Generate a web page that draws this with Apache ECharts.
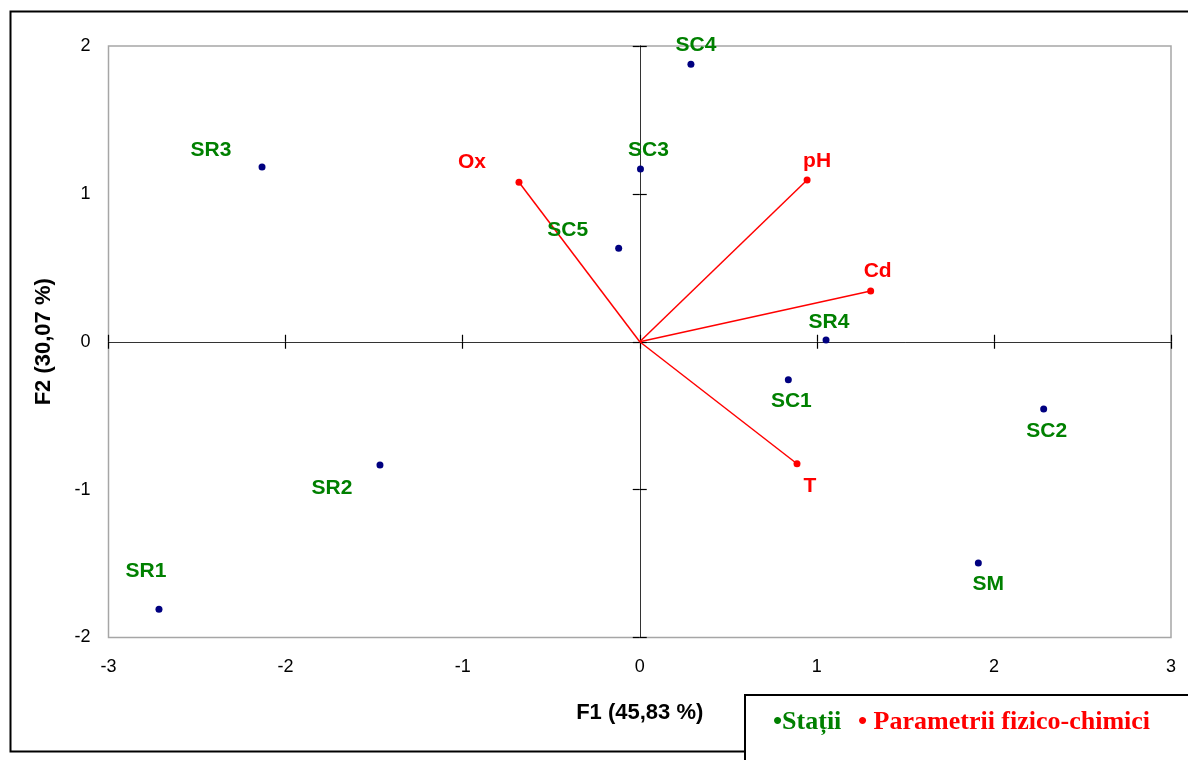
<!DOCTYPE html>
<html>
<head>
<meta charset="utf-8">
<script src="https://cdn.jsdelivr.net/npm/echarts@6/dist/echarts.min.js"></script>
<style>
  html, body { margin: 0; padding: 0; background: #fff; }
  #chart { width: 1188px; height: 760px; }
</style>
</head>
<body>
<div id="chart"></div>
<script>
// ---- Data ----
const stationNames = ['SR1', 'SR2', 'SR3', 'SR4', 'SC1', 'SC2', 'SC3', 'SC4', 'SC5', 'SM'];
const stationF1 = [-2.715, -1.467, -2.133, 1.052, 0.839, 2.281, 0.004, 0.289, -0.119, 1.912];
const stationF2 = [-1.809, -0.833, 1.181, 0.012, -0.257, -0.455, 1.168, 1.877, 0.632, -1.496];

const paramNames = ['Ox', 'pH', 'Cd', 'T'];
const paramF1 = [-0.682, 0.945, 1.304, 0.888];
const paramF2 = [1.079, 1.094, 0.343, -0.825];

const xTicks = { min: -3, max: 3, interval: 1 };
const yTicks = { min: -2, max: 2, interval: 1 };
const xTitle = 'F1 (45,83 %)';
const yTitle = 'F2 (30,07 %)';
const legendStations = '\u2022Sta\u021Bii';
const legendParams = '\u2022 Parametrii fizico-chimici';

// ---- Layout (label offsets in px, relative to point) ----
const stationLabelOffset = {
  SR1: [-13, -38], SR2: [-48, 23], SR3: [-51, -17], SR4: [3, -18],
  SC1: [3, 21], SC2: [3, 22], SC3: [8, -19], SC4: [5, -19], SC5: [-51, -18], SM: [10, 21]
};
const paramLabelOffset = { Ox: [-47, -20], pH: [10, -19], Cd: [7, -20], T: [13, 22] };

const FONT = '"Liberation Sans", Arial, sans-serif';
const SERIF = '"Liberation Serif", "Times New Roman", serif';
const axisDark = '#333333';

const chart = echarts.init(document.getElementById('chart'), null, { renderer: 'canvas' });

function zeroAxis(pos, isX) {
  return Object.assign({
    type: 'value',
    position: pos,
    axisLine: { show: true, onZero: true, onZeroAxisIndex: 0, lineStyle: { color: axisDark, width: 1 } },
    axisTick: { show: true, inside: true, length: 7, lineStyle: { color: '#000', width: 1.2 } },
    axisLabel: { show: false },
    splitLine: { show: false }
  }, isX ? xTicks : yTicks);
}

const option = {
  animation: false,
  backgroundColor: '#fff',
  grid: {
    left: 108.5, top: 46, right: 1188 - 1171, bottom: 760 - 637.5,
    show: true, borderColor: '#a6a6a6', borderWidth: 1.5, backgroundColor: 'transparent'
  },
  xAxis: [
    Object.assign({
      type: 'value', position: 'bottom',
      axisLine: { show: false, onZero: false },
      axisTick: { show: false },
      splitLine: { show: false },
      axisLabel: { show: true, margin: 21, fontSize: 18, color: '#000', fontFamily: FONT },
      name: xTitle, nameLocation: 'middle', nameGap: 64,
      nameTextStyle: { fontSize: 22, fontWeight: 'bold', color: '#000', fontFamily: FONT }
    }, xTicks),
    zeroAxis('bottom', true),
    zeroAxis('top', true)
  ],
  yAxis: [
    Object.assign({
      type: 'value', position: 'left',
      axisLine: { show: false, onZero: false },
      axisTick: { show: false },
      splitLine: { show: false },
      axisLabel: { show: true, margin: 18, fontSize: 18, color: '#000', fontFamily: FONT },
      name: yTitle, nameLocation: 'middle', nameGap: 54, nameRotate: 90,
      nameTextStyle: { fontSize: 22, fontWeight: 'bold', color: '#000', fontFamily: FONT }
    }, yTicks),
    zeroAxis('left', false),
    zeroAxis('right', false)
  ],
  series: [
    {
      type: 'lines',
      coordinateSystem: 'cartesian2d',
      silent: true,
      lineStyle: { color: '#ff0000', width: 1.5, opacity: 1 },
      data: paramNames.map((n, i) => ({ coords: [[0, 0], [paramF1[i], paramF2[i]]] })),
      z: 3
    },
    {
      type: 'scatter',
      symbol: 'circle',
      symbolSize: 7,
      itemStyle: { color: '#ff0000', opacity: 1 },
      silent: true,
      label: {
        show: true, position: 'inside', align: 'center', verticalAlign: 'middle',
        color: '#ff0000', fontSize: 21, fontWeight: 'bold', fontFamily: FONT, opacity: 1,
        formatter: p => p.name
      },
      data: paramNames.map((n, i) => ({ name: n, value: [paramF1[i], paramF2[i]], label: { offset: paramLabelOffset[n] } })),
      z: 4
    },
    {
      type: 'scatter',
      symbol: 'circle',
      symbolSize: 7,
      itemStyle: { color: '#000080', opacity: 1 },
      silent: true,
      label: {
        show: true, position: 'inside', align: 'center', verticalAlign: 'middle',
        color: '#008000', fontSize: 21, fontWeight: 'bold', fontFamily: FONT, opacity: 1,
        formatter: p => p.name
      },
      data: stationNames.map((n, i) => ({ name: n, value: [stationF1[i], stationF2[i]], label: { offset: stationLabelOffset[n] } })),
      z: 5
    }
  ],
  graphic: [
    { type: 'rect', left: 8, top: 9, z: 100, silent: true,
      shape: { x: 0, y: 0, width: 1200, height: 740 },
      style: { fill: 'none', stroke: '#000', lineWidth: 2 } },
    { type: 'rect', left: 744, top: 694, z: 101, silent: true,
      shape: { x: 0, y: 0, width: 460, height: 80 },
      style: { fill: '#fff', stroke: '#000', lineWidth: 2 } },
    { type: 'text', left: 773, top: 709, z: 102, silent: true,
      style: { text: legendStations, fill: '#008000', font: 'bold 26px ' + SERIF } },
    { type: 'text', left: 858, top: 709, z: 102, silent: true,
      style: { text: legendParams, fill: '#ff0000', font: 'bold 26px ' + SERIF } }
  ]
};

chart.setOption(option);
</script>
</body>
</html>
